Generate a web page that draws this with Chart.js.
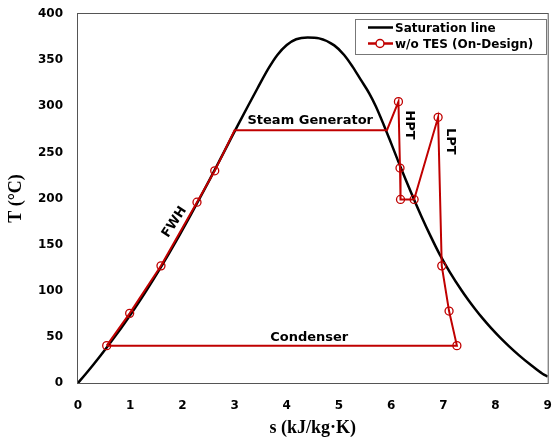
<!DOCTYPE html>
<html>
<head>
<meta charset="utf-8">
<script src="https://cdn.jsdelivr.net/npm/chart.js@4.4.1/dist/chart.umd.min.js"></script>
<style>
  html, body { margin: 0; padding: 0; background: #fff; }
  #wrap { width: 553px; height: 443px; }
</style>
</head>
<body>
<div id="wrap"><canvas id="tsChart" width="553" height="443"></canvas></div>
<script>
// Curva de saturación (s en kJ/kg·K, T en °C)
const satS = [0.0, 0.151, 0.2965, 0.4368, 0.5724, 0.7038, 0.8313, 0.9551, 1.0756, 1.1929, 1.3072,
  1.5279, 1.7392, 1.9426, 2.1392, 2.3305, 2.5177, 2.7020, 2.8849, 3.0685, 3.2548, 3.44,
  3.65, 3.82, 4.00, 4.18, 4.40, 4.62, 4.91, 5.10, 5.26, 5.42, 5.58, 5.7059, 5.8571, 5.9989,
  6.1383, 6.2817, 6.4302, 6.5850, 6.7491, 6.9247, 7.1270, 7.3542, 7.4791,
  7.6123, 7.7540, 7.9081, 8.0748, 8.2556, 8.4520, 8.6661, 8.8999, 9.0];
const satT = [0, 10, 20, 30, 40, 50, 60, 70, 80, 90, 100,
  120, 140, 160, 180, 200, 220, 240, 260, 280, 300, 319.5,
  341, 355.6, 366.4, 372.6, 374.5, 373.6, 366, 355.6, 343, 328.5, 314, 300, 280, 260,
  240, 220, 200, 180, 160, 140, 120, 100, 90,
  80, 70, 60, 50, 40, 30, 20, 10, 7];

// Ciclo sin TES (diseño)
const cycleS = [0.55, 0.99, 1.59, 2.28, 2.62, 3.0, 5.92, 6.14, 6.17, 6.18, 6.44, 6.90, 6.97, 7.11, 7.26, 0.55];
const cycleT = [40.5, 75.5, 127, 196, 230, 274, 274, 305, 233, 199, 199, 288, 127, 78, 40.5, 40.5];
const cycleMarker = [1, 1, 1, 1, 1, 0, 0, 1, 1, 1, 1, 1, 1, 1, 1, 0];

// Etiquetas dentro del gráfico
const noteText = ['Steam Generator', 'Condenser', 'FWH', 'HPT', 'LPT'];
const noteS = [4.45, 4.43, 1.85, 6.34, 7.13];
const noteT = [284, 48.8, 174.5, 279.7, 262];
const noteAngle = [0, 0, -57, 90, 90];

const xTicks = [0, 1, 2, 3, 4, 5, 6, 7, 8, 9];
const yTicks = [0, 50, 100, 150, 200, 250, 300, 350, 400];

const RED = '#C00000';
const tickFont = { family: 'DejaVu Sans', weight: 'bold', size: 12 };
const titleFont = { family: 'Liberation Serif', weight: 'bold', size: 18 };

const extrasPlugin = {
    id: 'extras',
    afterDatasetsDraw(chart) {
        const ctx = chart.ctx;
        const a = chart.chartArea;
        const xs = chart.scales.x, ys = chart.scales.y;
        ctx.save();
        // marco del área
        ctx.strokeStyle = '#555';
        ctx.lineWidth = 1;
        ctx.strokeRect(a.left - 0.5, a.top - 0.5, a.right - a.left + 1, a.bottom - a.top + 1);

        // anotaciones
        ctx.fillStyle = '#000';
        ctx.font = 'bold 13px "DejaVu Sans"';
        ctx.textAlign = 'center';
        ctx.textBaseline = 'middle';
        noteText.forEach((t, i) => {
            ctx.save();
            ctx.translate(xs.getPixelForValue(noteS[i]), ys.getPixelForValue(noteT[i]));
            ctx.rotate(noteAngle[i] * Math.PI / 180);
            ctx.fillText(t, 0, 0);
            ctx.restore();
        });

        // leyenda
        const lx = 355, ly = 19, lw = 191, lh = 35;
        ctx.fillStyle = '#fff';
        ctx.fillRect(lx, ly, lw, lh);
        ctx.strokeStyle = '#777';
        ctx.lineWidth = 1;
        ctx.strokeRect(lx + 0.5, ly + 0.5, lw, lh);
        const rows = chart.data.datasets;
        ctx.font = 'bold 12px "DejaVu Sans"';
        ctx.textAlign = 'left';
        rows.forEach((ds, i) => {
            const y = ly + 8.5 + i * 16;
            ctx.strokeStyle = ds.borderColor;
            ctx.lineWidth = 2.5;
            ctx.beginPath();
            ctx.moveTo(368, y);
            ctx.lineTo(393, y);
            ctx.stroke();
            if (ds.label.startsWith('w/o')) {
                ctx.lineWidth = 1.5;
                ctx.fillStyle = '#fff';
                ctx.beginPath();
                ctx.arc(380, y, 4, 0, Math.PI * 2);
                ctx.fill();
                ctx.stroke();
            }
            ctx.fillStyle = '#000';
            ctx.fillText(ds.label, 395, y + 1);
        });
        ctx.restore();
    }
};

function initChart() {
    const ctx = document.getElementById('tsChart').getContext('2d');
    new Chart(ctx, {
        type: 'scatter',
        data: {
            datasets: [{
                label: 'Saturation line',
                data: satS.map((s, i) => ({ x: s, y: satT[i] })),
                showLine: true,
                borderColor: '#000',
                borderWidth: 2.5,
                pointRadius: 0,
                cubicInterpolationMode: 'monotone',
                order: 2
            }, {
                label: 'w/o TES (On-Design)',
                data: cycleS.map((s, i) => ({ x: s, y: cycleT[i] })),
                showLine: true,
                borderColor: RED,
                borderWidth: 2,
                pointRadius: cycleMarker.map(m => m ? 4 : 0),
                pointBorderWidth: 1.3,
                pointBorderColor: RED,
                pointBackgroundColor: 'rgba(255,255,255,0)',
                tension: 0,
                order: 1
            }]
        },
        options: {
            responsive: false,
            animation: false,
            layout: { padding: { top: 14, right: 4, left: 2, bottom: 0 } },
            plugins: {
                legend: { display: false },
                tooltip: { enabled: false }
            },
            scales: {
                x: {
                    type: 'linear',
                    min: 0, max: 9,
                    grid: { display: false, drawTicks: false },
                    border: { display: false },
                    afterBuildTicks: (s) => { s.ticks = xTicks.map(v => ({ value: v })); },
                    afterFit: (s) => { s.height = 60; s.paddingLeft = 0; s.paddingRight = 0; },
                    ticks: { color: '#000', font: tickFont, padding: 16 },
                    title: {
                        display: true,
                        text: 's (kJ/kg·K)',
                        color: '#000',
                        font: titleFont,
                        padding: { top: 6 }
                    }
                },
                y: {
                    type: 'linear',
                    min: 0, max: 400,
                    grid: { display: false, drawTicks: false },
                    border: { display: false },
                    afterBuildTicks: (s) => { s.ticks = yTicks.map(v => ({ value: v })); },
                    afterFit: (s) => { s.width = 76; s.paddingTop = 0; s.paddingBottom = 0; },
                    ticks: { color: '#000', font: tickFont, padding: 15 },
                    title: {
                        display: true,
                        text: 'T (°C)',
                        color: '#000',
                        font: titleFont,
                        padding: { bottom: 2 }
                    }
                }
            }
        },
        plugins: [extrasPlugin]
    });
}

if (document.readyState === 'loading') {
    document.addEventListener('DOMContentLoaded', initChart);
} else {
    initChart();
}
</script>
</body>
</html>
